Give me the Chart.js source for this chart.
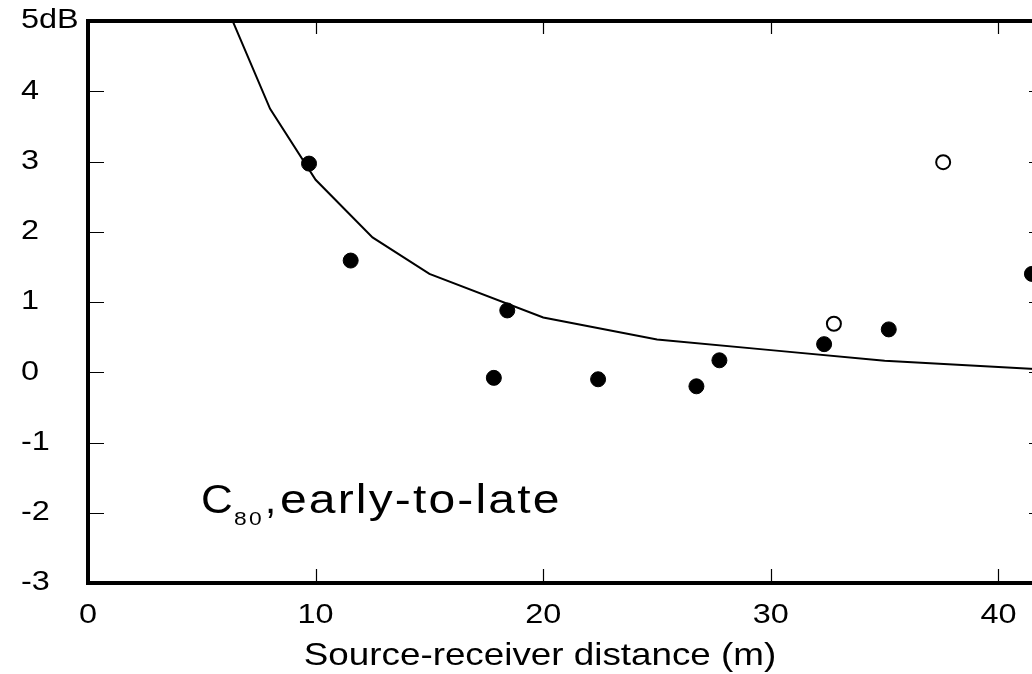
<!DOCTYPE html>
<html>
<head>
<meta charset="utf-8">
<script src="https://cdn.jsdelivr.net/npm/chart.js@4.4.0/dist/chart.umd.min.js"></script>
<style>
html,body{margin:0;padding:0;overflow:hidden;background:#fff;width:1032px;height:674px}
#wrap{position:absolute;left:0;top:0;width:1060px;height:674px}
canvas{display:block}
</style>
</head>
<body>
<div id="wrap"><canvas id="c" width="1060" height="674"></canvas></div>
<script>
// ---- data ----
const xTicks = [0, 10, 20, 30, 40];
const yTicks = [-3, -2, -1, 0, 1, 2, 3, 4, 5];
const filledX = [9.71, 11.54, 17.83, 18.42, 22.41, 26.73, 27.74, 32.34, 35.18, 41.47];
const filledY = [2.97, 1.59, -0.08, 0.88, -0.10, -0.20, 0.17, 0.40, 0.61, 1.40];
const openX = [32.77, 37.57];
const openY = [0.69, 2.99];
const curveX = [6, 8, 10, 12.5, 15, 20, 25, 30, 35, 42];
const curveY = [5.27, 3.75, 2.74, 1.92, 1.40, 0.78, 0.465, 0.315, 0.165, 0.04];

const FONT = '"Liberation Sans", Arial, Helvetica, sans-serif';
const TICK_SIZE = 27, TITLE_SIZE = 32;

// the reference lettering is set a little wider than Arial: stretch it horizontally
function widenText(ctx) {
  if (ctx.__widened) return;
  const orig = ctx.fillText;
  ctx.fillText = function (text, x, y, maxWidth) {
    const m = /(\d+(?:\.\d+)?)px/.exec(this.font);
    const size = m ? parseFloat(m[1]) : 0;
    const sx = size === TITLE_SIZE ? 1.15 : (size === TICK_SIZE ? 1.2 : 1);
    if (sx === 1) return maxWidth === undefined ? orig.call(this, text, x, y) : orig.call(this, text, x, y, maxWidth);
    this.save();
    this.translate(x, y);
    this.scale(sx, 1);
    if (maxWidth === undefined) orig.call(this, text, 0, 0); else orig.call(this, text, 0, 0, maxWidth);
    this.restore();
  };
  ctx.__widened = true;
}

const framePlugin = {
  id: 'frame',
  afterLayout(chart) {
    // centre the axis title where the reference has it
    const xs = chart.scales.x;
    xs.left = 1080 - xs.right;
  },
  beforeDraw(chart) {
    widenText(chart.ctx);
    chart.ctx.letterSpacing = '0px';
  },
  afterDraw(chart) {
    const ctx = chart.ctx;
    const a = chart.chartArea;
    const xs = chart.scales.x, ys = chart.scales.y;
    ctx.save();
    // frame
    ctx.strokeStyle = '#000';
    ctx.lineWidth = 4;
    ctx.strokeRect(a.left, a.top, a.right - a.left, a.bottom - a.top);
    // inward ticks
    ctx.lineWidth = 1.2;
    ctx.beginPath();
    xTicks.forEach(v => {
      if (v <= xs.min || v >= xs.max) return;
      const px = Math.round(xs.getPixelForValue(v)) + 0.5;
      ctx.moveTo(px, a.bottom - 2); ctx.lineTo(px, a.bottom - 14);
      ctx.moveTo(px, a.top + 2); ctx.lineTo(px, a.top + 13);
    });
    yTicks.forEach(v => {
      if (v <= ys.min || v >= ys.max) return;
      const py = Math.round(ys.getPixelForValue(v)) + 0.5;
      ctx.moveTo(a.left + 2, py); ctx.lineTo(a.left + 16, py);
      ctx.moveTo(a.right - 2, py); ctx.lineTo(a.right - 15, py);
    });
    ctx.stroke();
    // annotation: C80, early-to-late
    ctx.fillStyle = '#000';
    ctx.textBaseline = 'alphabetic';
    ctx.textAlign = 'left';
    ctx.font = '40px ' + FONT;
    ctx.save();
    ctx.translate(201, 513);
    ctx.scale(1.1, 1);
    ctx.fillText('C', 0, 0);
    ctx.restore();
    ctx.font = '19px ' + FONT;
    ctx.save();
    ctx.translate(234, 525);
    ctx.scale(1.2, 1);
    ctx.letterSpacing = '2px';
    ctx.fillText('80', 0, 0);
    ctx.restore();
    ctx.font = '40px ' + FONT;
    ctx.fillText(',', 265, 513);
    ctx.save();
    ctx.translate(280, 513);
    ctx.scale(1.2, 1);
    ctx.letterSpacing = '1.8px';
    ctx.fillText('early-to-late', 0, 0);
    ctx.restore();
    ctx.restore();
  }
};

new Chart(document.getElementById('c').getContext('2d'), {
  type: 'scatter',
  data: {
    datasets: [
      {
        label: 'Measured',
        data: filledX.map((x, i) => ({x: x, y: filledY[i]})),
        pointRadius: 7.5, pointHoverRadius: 7.5,
        pointBackgroundColor: '#000', pointBorderColor: '#000', pointBorderWidth: 1,
        order: 0
      },
      {
        label: 'Measured (other)',
        data: openX.map((x, i) => ({x: x, y: openY[i]})),
        pointRadius: 7, pointHoverRadius: 7,
        pointBackgroundColor: '#fff', pointBorderColor: '#000', pointBorderWidth: 2,
        order: 0
      },
      {
        label: 'Theory',
        data: curveX.map((x, i) => ({x: x, y: curveY[i]})),
        showLine: true, borderColor: '#000', borderWidth: 2, tension: 0,
        pointRadius: 0, pointHoverRadius: 0,
        order: 1
      }
    ]
  },
  options: {
    responsive: false,
    animation: false,
    devicePixelRatio: 1,
    layout: {padding: {left: 21, top: 21, right: 16, bottom: 0}},
    plugins: {legend: {display: false}, tooltip: {enabled: false}},
    scales: {
      x: {
        type: 'linear', min: 0, max: 42,
        afterBuildTicks: s => { s.ticks = xTicks.map(v => ({value: v})); },
        grid: {display: false, drawTicks: false},
        border: {display: false},
        ticks: {font: {family: FONT, size: TICK_SIZE}, color: '#000', padding: 16, maxRotation: 0, autoSkip: false,
                callback: v => String(v)},
        title: {display: true, text: 'Source-receiver distance (m)', color: '#000',
                font: {family: FONT, size: TITLE_SIZE, lineHeight: 1}, padding: {top: 0, bottom: 2}},
        afterFit: s => { s.height = 91; }
      },
      y: {
        type: 'linear', min: -3, max: 5,
        afterBuildTicks: s => { s.ticks = yTicks.map(v => ({value: v})); },
        grid: {display: false, drawTicks: false},
        border: {display: false},
        ticks: {font: {family: FONT, size: TICK_SIZE}, color: '#000', padding: 0, crossAlign: 'far',
                callback: v => (v === 5 ? '5dB' : String(v))},
        afterFit: s => { s.width = 67; }
      }
    }
  },
  plugins: [framePlugin]
});
</script>
</body>
</html>
